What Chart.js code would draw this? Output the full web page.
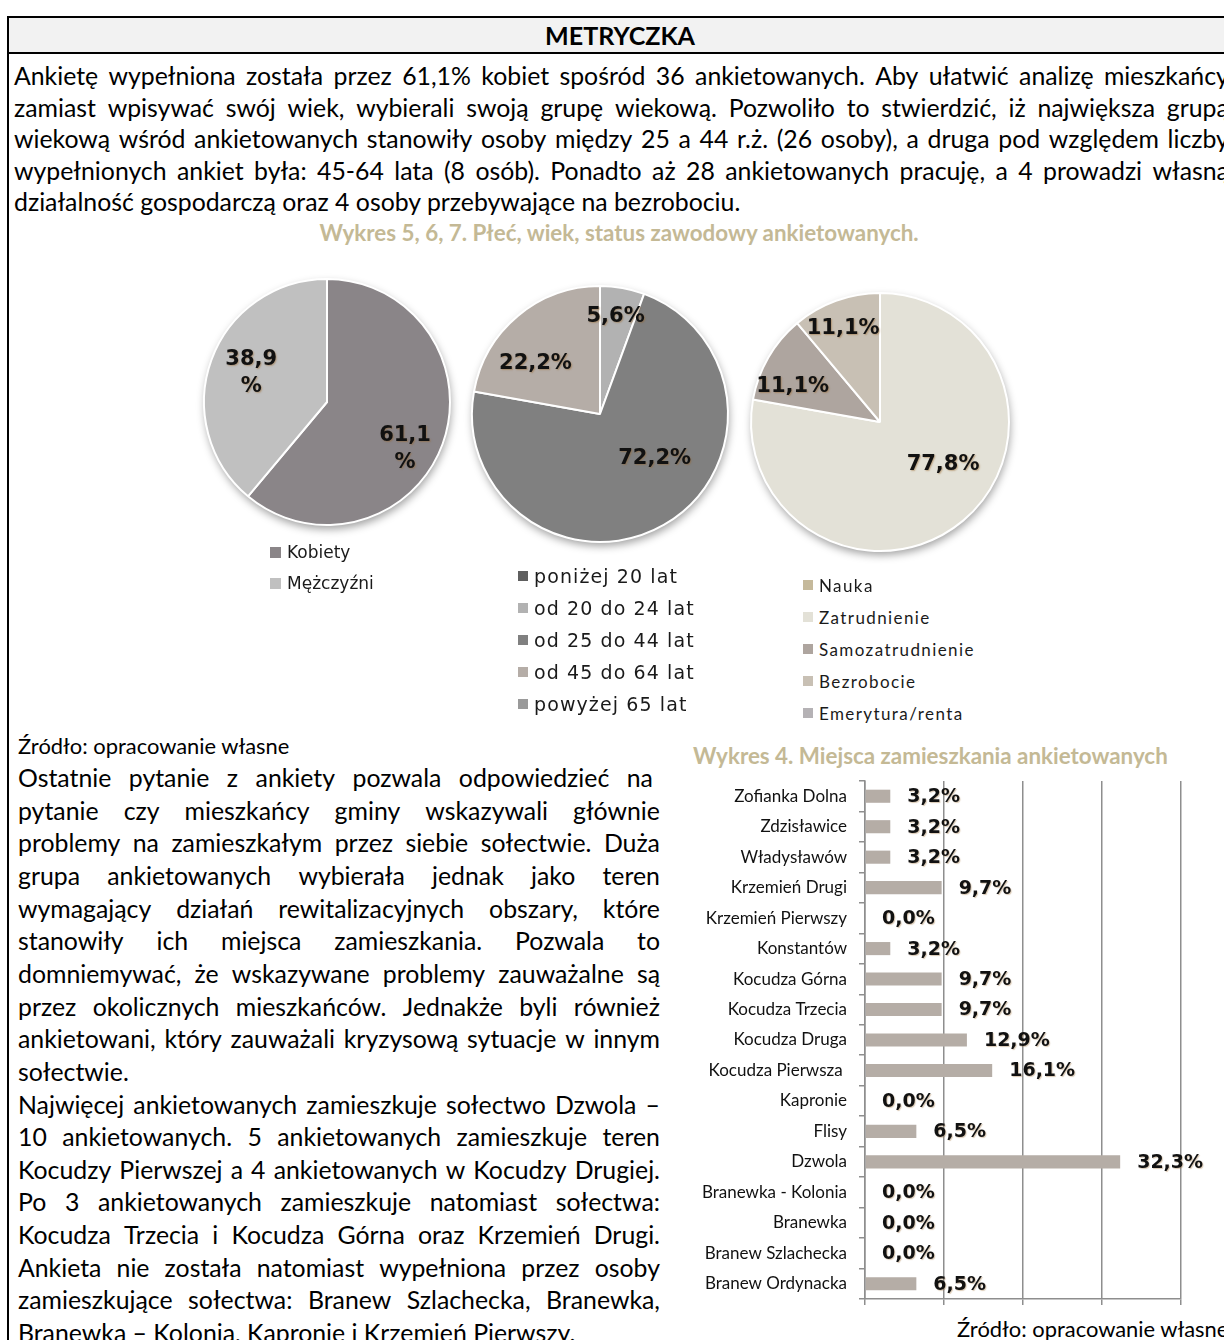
<!DOCTYPE html>
<html lang="pl">
<head>
<meta charset="utf-8">
<title>Metryczka</title>
<script src="https://cdn.jsdelivr.net/npm/chart.js@4.4.1/dist/chart.umd.min.js"></script>
<style>
  html, body { margin: 0; padding: 0; background: #fff; }
  body { width: 1224px; height: 1340px; overflow: hidden; position: relative; font-family: Lato, "Noto Sans", sans-serif; color: #000; }
  .rule { position: absolute; background: #000; }
  .line { position: absolute; display: flex; justify-content: space-between; white-space: nowrap; }
  .line span { flex: 0 0 auto; }
  .plain { position: absolute; white-space: pre; }
  canvas { position: absolute; }
  .legend { position: absolute; }
  .legend .item { position: absolute; left: 0; white-space: pre; display: flex; align-items: center; color: #1a1a1a; }
  .legend .sw { display: inline-block; flex: 0 0 auto; }
</style>
</head>
<body>
<div class="rule" style="left:7px;top:16px;width:1240px;height:2px"></div>
<div style="position:absolute;left:9px;top:18px;width:1240px;height:34px;background:#f2f2f2"></div>
<div class="rule" style="left:7px;top:52px;width:1240px;height:2px"></div>
<div class="rule" style="left:7px;top:16px;width:2px;height:1330px"></div>

<canvas id="pieGender" width="280" height="280" style="left:187px;top:262px"></canvas>
<canvas id="pieAge" width="290" height="290" style="left:455px;top:269px"></canvas>
<canvas id="pieStatus" width="290" height="290" style="left:735px;top:277px"></canvas>
<canvas id="bars" width="534" height="540" style="left:690px;top:771px"></canvas>

<script>
// ---- dane ----
const genderLabels = ['Kobiety', 'Mężczyźni'];
const genderValues = [61.1, 38.9];

const ageLabels = ['poniżej 20 lat', 'od 20 do 24 lat', 'od 25 do 44 lat', 'od 45 do 64 lat', 'powyżej 65 lat'];
const ageValues = [0, 5.6, 72.2, 22.2, 0];

const statusLabels = ['Nauka', 'Zatrudnienie', 'Samozatrudnienie', 'Bezrobocie', 'Emerytura/renta'];
const statusValues = [0, 77.8, 11.1, 11.1, 0];

const placeLabels = ['Zofianka Dolna', 'Zdzisławice', 'Władysławów', 'Krzemień Drugi', 'Krzemień Pierwszy',
  'Konstantów', 'Kocudza Górna', 'Kocudza Trzecia', 'Kocudza Druga', 'Kocudza Pierwsza ', 'Kapronie',
  'Flisy', 'Dzwola', 'Branewka - Kolonia', 'Branewka', 'Branew Szlachecka', 'Branew Ordynacka'];
const placeValues = [3.2, 3.2, 3.2, 9.7, 0.0, 3.2, 9.7, 9.7, 12.9, 16.1, 0.0, 6.5, 32.3, 0.0, 0.0, 0.0, 6.5];
const placeAxisMax = 40;
const placeAxisStep = 10;

// ---- kolory ----
const genderColors = ['#8a8588', '#c0c0c0'];
const ageColors = ['#5f5f5f', '#b2b2b2', '#808080', '#b5ada7', '#9a9a9a'];
const statusColors = ['#c5b99b', '#e3e1d7', '#aea59f', '#c8c0b4', '#b5b2b5'];
const barColor = '#b5ada6';
const gridGray = '#8e8e8e';
const titleColor = '#c4b995';

// ---- teksty ----
const headerText = 'METRYCZKA';
const introLines = [
  'Ankietę wypełniona została przez 61,1% kobiet spośród 36 ankietowanych. Aby ułatwić analizę mieszkańcy',
  'zamiast wpisywać swój wiek, wybierali swoją grupę wiekową. Pozwoliło to stwierdzić, iż największa grupą',
  'wiekową wśród ankietowanych stanowiły osoby między 25 a 44 r.ż. (26 osoby), a druga pod względem liczby',
  'wypełnionych ankiet była: 45-64 lata (8 osób). Ponadto aż 28 ankietowanych pracuję, a 4 prowadzi własną',
  'działalność gospodarczą oraz 4 osoby przebywające na bezrobociu.'
];
const pieTitle = 'Wykres 5, 6, 7. Płeć, wiek, status zawodowy ankietowanych.';
const barTitle = 'Wykres 4. Miejsca zamieszkania ankietowanych';
const sourceText = 'Źródło: opracowanie własne';
const bodyLines = [
  'Ostatnie pytanie z ankiety pozwala odpowiedzieć na',
  'pytanie czy mieszkańcy gminy wskazywali głównie',
  'problemy na zamieszkałym przez siebie sołectwie. Duża',
  'grupa ankietowanych wybierała jednak jako teren',
  'wymagający działań rewitalizacyjnych obszary, które',
  'stanowiły ich miejsca zamieszkania. Pozwala to',
  'domniemywać, że wskazywane problemy zauważalne są',
  'przez okolicznych mieszkańców. Jednakże byli również',
  'ankietowani, który zauważali kryzysową sytuacje w innym',
  'sołectwie.',
  'Najwięcej ankietowanych zamieszkuje sołectwo Dzwola –',
  '10 ankietowanych. 5 ankietowanych zamieszkuje teren',
  'Kocudzy Pierwszej a 4 ankietowanych w Kocudzy Drugiej.',
  'Po 3 ankietowanych zamieszkuje natomiast sołectwa:',
  'Kocudza Trzecia i Kocudza Górna oraz Krzemień Drugi.',
  'Ankieta nie została natomiast wypełniona przez osoby',
  'zamieszkujące sołectwa: Branew Szlachecka, Branewka,',
  'Branewka – Kolonia, Kapronie i Krzemień Pierwszy.'
];
const bodyParagraphEnds = [9, 17];

// ---- pomocnicze ----
const measureCtx = document.createElement('canvas').getContext('2d');
function textWidth(text, font) { measureCtx.font = font; return measureCtx.measureText(text).width; }
function fitSize(text, weight, family, target) {
  return 100 * target / textWidth(text, weight + ' 100px ' + family);
}
function fmtPct(v) { return v.toFixed(1).replace('.', ',') + '%'; }

function addLine(text, o) {
  const d = document.createElement('div');
  const lh = o.lineH;
  d.style.left = o.left + 'px';
  d.style.top = (o.cy - lh / 2) + 'px';
  d.style.height = lh + 'px';
  d.style.lineHeight = lh + 'px';
  d.style.fontSize = o.size + 'px';
  d.style.fontWeight = o.weight || 'normal';
  d.style.color = o.color || '#000';
  if (o.justify) {
    d.className = 'line';
    d.style.width = (o.right - o.left) + 'px';
    text.split(' ').forEach(w => {
      const s = document.createElement('span');
      s.textContent = w;
      d.appendChild(s);
    });
  } else {
    d.className = 'plain';
    if (o.center !== undefined) {
      d.style.left = (o.center - 700) + 'px';
      d.style.width = '1400px';
      d.style.textAlign = 'center';
    }
    d.textContent = text;
  }
  document.body.appendChild(d);
}

function buildLegend(labels, colors, o) {
  const box = document.createElement('div');
  box.className = 'legend';
  box.style.left = o.left + 'px';
  box.style.top = '0px';
  labels.forEach((lab, i) => {
    const it = document.createElement('div');
    it.className = 'item';
    it.style.top = (o.firstY + i * o.step - o.lineH / 2) + 'px';
    it.style.height = o.lineH + 'px';
    it.style.font = o.font;
    it.style.letterSpacing = o.spacing + 'px';
    const sw = document.createElement('span');
    sw.className = 'sw';
    sw.style.width = o.box + 'px';
    sw.style.height = o.box + 'px';
    sw.style.background = colors[i];
    sw.style.marginRight = o.gap + 'px';
    it.appendChild(sw);
    it.appendChild(document.createTextNode(lab));
    box.appendChild(it);
  });
  document.body.appendChild(box);
}

// ---- wtyczki rysujące ----
const pieShadow = {
  id: 'pieShadow',
  beforeDatasetsDraw(chart) {
    const arc = chart.getDatasetMeta(0).data[0];
    if (!arc) return;
    const p = arc.getProps(['x', 'y', 'outerRadius'], true);
    const ctx = chart.ctx;
    ctx.save();
    ctx.shadowColor = 'rgba(0,0,0,0.38)';
    ctx.shadowBlur = 9;
    ctx.shadowOffsetX = 1;
    ctx.shadowOffsetY = 4;
    ctx.beginPath();
    ctx.arc(p.x, p.y, p.outerRadius, 0, Math.PI * 2);
    ctx.fillStyle = '#ffffff';
    ctx.fill();
    ctx.restore();
  }
};

const pieLabels = {
  id: 'pieLabels',
  afterDatasetsDraw(chart, args, opts) {
    const ctx = chart.ctx;
    const meta = chart.getDatasetMeta(0);
    const vals = chart.data.datasets[0].data;
    ctx.save();
    ctx.font = opts.font;
    ctx.textAlign = 'center';
    ctx.textBaseline = 'middle';
    ctx.fillStyle = '#111';
    ctx.shadowColor = 'rgba(150,100,40,0.45)';
    ctx.shadowOffsetX = 1;
    ctx.shadowOffsetY = 1;
    ctx.shadowBlur = 1.5;
    meta.data.forEach((arc, i) => {
      if (!vals[i]) return;
      const p = arc.getProps(['x', 'y', 'startAngle', 'endAngle', 'outerRadius'], true);
      const pl = (opts.place && opts.place[i]) || {};
      const ang = (p.startAngle + p.endAngle) / 2 + (pl.turn || 0) * Math.PI / 180;
      const rr = p.outerRadius * (pl.r !== undefined ? pl.r : 0.65);
      const cx = p.x + Math.cos(ang) * rr;
      const cy = p.y + Math.sin(ang) * rr;
      const txt = fmtPct(vals[i]);
      const parts = opts.split ? [txt.slice(0, -1), '%'] : [txt];
      parts.forEach((t, k) => ctx.fillText(t, cx, cy + (k - (parts.length - 1) / 2) * opts.lineHeight));
    });
    ctx.restore();
  }
};

const barValues = {
  id: 'barValues',
  afterDatasetsDraw(chart, args, opts) {
    const ctx = chart.ctx;
    const meta = chart.getDatasetMeta(0);
    const vals = chart.data.datasets[0].data;
    ctx.save();
    ctx.font = opts.font;
    ctx.textAlign = 'left';
    ctx.textBaseline = 'middle';
    ctx.fillStyle = '#111';
    ctx.shadowColor = 'rgba(150,100,40,0.35)';
    ctx.shadowOffsetX = 1;
    ctx.shadowOffsetY = 1;
    ctx.shadowBlur = 1;
    meta.data.forEach((bar, i) => {
      const p = bar.getProps(['x', 'y'], true);
      ctx.fillText(fmtPct(vals[i]), p.x + opts.gap, p.y + 1);
    });
    ctx.restore();
  }
};

function makePie(id, labels, values, colors, radius, labelOpts) {
  return new Chart(document.getElementById(id), {
    type: 'pie',
    data: { labels: labels, datasets: [{ data: values, backgroundColor: colors, borderColor: '#ffffff', borderWidth: 2, radius: radius }] },
    options: {
      responsive: false,
      animation: false,
      layout: { padding: 0 },
      plugins: { legend: { display: false }, tooltip: { enabled: false }, pieLabels: labelOpts }
    },
    plugins: [pieShadow, pieLabels]
  });
}

async function init() {
  try {
    await Promise.all([
      document.fonts.load('20px Lato'), document.fonts.load('bold 20px Lato'),
      document.fonts.load('20px "DejaVu Sans"'), document.fonts.load('bold 20px "DejaVu Sans"')
    ]);
  } catch (e) {}

  // nagłówek tabeli
  const headSize = fitSize(headerText, 'bold', 'Lato', 150);
  addLine(headerText, { center: 620, cy: 35, lineH: 34, size: headSize, weight: 'bold', justify: false });

  // akapit wprowadzający
  let introSize = fitSize(introLines[4], 'normal', 'Lato', 727);
  introLines.forEach((t, i) => {
    addLine(t, { left: 14, right: 1229, cy: 75 + i * 31.6, lineH: 32, size: introSize, justify: i < 4 });
  });

  // tytuły wykresów
  const titleSize = fitSize(barTitle, 'bold', 'Lato', 475);
  addLine(pieTitle, { center: 619, cy: 233, lineH: 24, size: titleSize, weight: 'bold', color: titleColor, justify: false });
  addLine(barTitle, { left: 693, cy: 756, lineH: 24, size: titleSize, weight: 'bold', color: titleColor, justify: false });

  // źródła
  const srcSize = fitSize(sourceText, 'normal', 'Lato', 272);
  addLine(sourceText, { left: 18, cy: 746, lineH: 26, size: srcSize, justify: false });
  addLine(sourceText, { left: 957, cy: 1329, lineH: 26, size: srcSize, justify: false });

  // tekst w lewej kolumnie
  let bodySize = introSize;
  bodyLines.forEach((t, i) => {
    if (bodyParagraphEnds.includes(i)) return;
    const w = textWidth(t, bodySize + 'px Lato');
    if (w > 640) bodySize = bodySize * 640 / w;
  });
  bodyLines.forEach((t, i) => {
    addLine(t, { left: 18, right: i === 0 ? 653 : 660, cy: 777 + i * 32.65, lineH: 32, size: bodySize, justify: !bodyParagraphEnds.includes(i) });
  });

  // legendy
  buildLegend(genderLabels, genderColors, { left: 270, firstY: 552, step: 31, lineH: 24, box: 11, gap: 6, spacing: 0, font: '17px "DejaVu Sans"' });
  buildLegend(ageLabels, ageColors, { left: 518, firstY: 576, step: 32, lineH: 28, box: 10, gap: 6, spacing: 1.1, font: '19px "DejaVu Sans"' });
  buildLegend(statusLabels, statusColors, { left: 803, firstY: 585, step: 32, lineH: 26, box: 10, gap: 6, spacing: 1.4, font: '17px Lato' });

  // wykresy kołowe
  const pieFont = 'bold 21px "DejaVu Sans"';
  makePie('pieGender', genderLabels, genderValues, genderColors, 123, {
    font: pieFont, split: true, lineHeight: 27,
    place: [{ turn: 11, r: 0.74 }, { turn: 1, r: 0.66 }]
  });
  makePie('pieAge', ageLabels, ageValues, ageColors, 128, {
    font: pieFont, lineHeight: 22,
    place: [{}, { turn: -1, r: 0.77 }, { turn: -21, r: 0.55 }, { turn: -12, r: 0.64 }, {}]
  });
  makePie('pieStatus', statusLabels, statusValues, statusColors, 129, {
    font: pieFont, lineHeight: 22,
    place: [{}, { turn: -16, r: 0.59 }, { turn: -8, r: 0.73 }, { turn: -1.5, r: 0.78 }, {}]
  });

  // wykres słupkowy miejsc zamieszkania
  new Chart(document.getElementById('bars'), {
    type: 'bar',
    data: { labels: placeLabels, datasets: [{ data: placeValues, backgroundColor: barColor, barPercentage: 0.43, categoryPercentage: 1 }] },
    options: {
      indexAxis: 'y',
      responsive: false,
      animation: false,
      layout: { padding: { top: 10, right: 43, bottom: 4, left: 0 } },
      plugins: {
        legend: { display: false },
        tooltip: { enabled: false },
        barValues: { font: 'bold 19px "DejaVu Sans"', gap: 17 }
      },
      scales: {
        x: {
          min: 0, max: placeAxisMax,
          ticks: { display: false, stepSize: placeAxisStep },
          grid: { color: gridGray, lineWidth: 1.5, drawTicks: true, tickLength: 6 },
          border: { color: gridGray, width: 1.5 },
          afterFit(s) { s.height = 8; s.paddingLeft = 0; s.paddingRight = 0; }
        },
        y: {
          ticks: { font: { family: 'Lato', size: 17 }, color: '#111', padding: 12, autoSkip: false },
          grid: { drawOnChartArea: false, color: gridGray, lineWidth: 1.5, drawTicks: true, tickLength: 6 },
          border: { color: gridGray, width: 1.5 },
          afterFit(s) { s.width = 175; s.paddingTop = 0; s.paddingBottom = 0; }
        }
      }
    },
    plugins: [barValues]
  });
}
init();
</script>
</body>
</html>
